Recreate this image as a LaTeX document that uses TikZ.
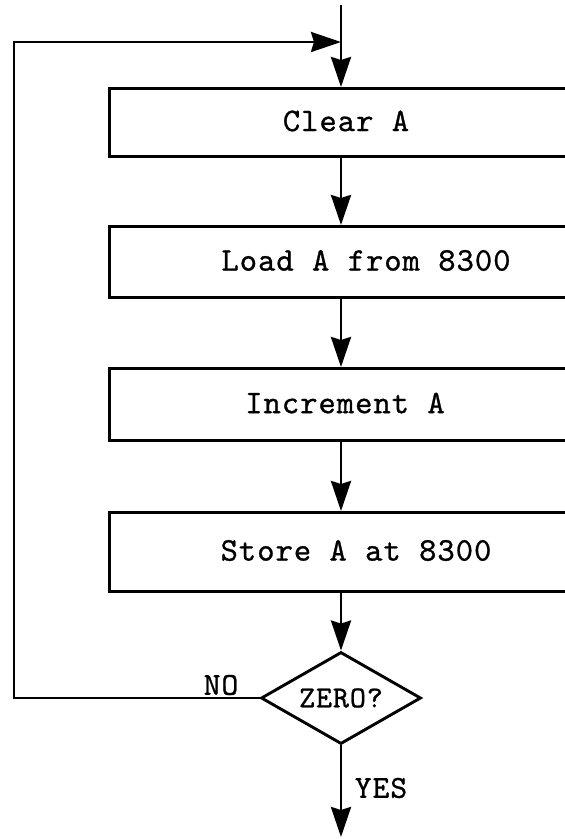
\documentclass[tikz,border=0pt]{standalone}
\usepackage{fontspec}
\newfontfamily\courtt[LetterSpace=3,FakeBold=0.8]{lmmono10-regular.otf}
\usetikzlibrary{arrows.meta,shapes.geometric}
\tikzset{
  stepbox/.style={draw, line width=2.9pt, minimum width=490pt, inner sep=0pt, anchor=north west},
  lbl/.style={font=\fontsize{33}{38}\selectfont\courtt, inner sep=0pt},
  smalllbl/.style={font=\fontsize{32}{36}\selectfont\courtt, inner sep=0pt},
  decision/.style={draw, diamond, line width=2.9pt, aspect=1.74, minimum width=160pt, minimum height=92pt, inner sep=0pt, font=\fontsize{30.5}{34}\selectfont\courtt},
  flow/.style={line width=2.9pt, -{Stealth[length=30pt, width=20pt, inset=3pt]}}
}
\begin{document}
\begin{tikzpicture}[x=1pt, y=-1pt]
\useasboundingbox (0,0) rectangle (565,839);
\clip (0,0) rectangle (565,839);
\fill[white] (0,0) rectangle (565,839);

\coordinate (top) at (341,5);
\coordinate (join) at (341,42);
\coordinate (loopx) at (14,42);
\coordinate (endpt) at (341,837);

\node[stepbox, minimum height=68pt] (clear) at (108,87) {};
\node[stepbox, minimum height=71pt] (load) at (108,225) {};
\node[stepbox, minimum height=72pt] (incr) at (108,367) {};
\node[stepbox, minimum height=79pt] (store) at (108,511) {};

\node[lbl] (tclear) at (346,121) {Clear A};
\node[lbl] (tload) at (366,260.5) {Load A from 8300};
\node[lbl] (tincr) at (345,403) {Increment A};
\node[lbl] (tstore) at (356,550.5) {Store A at 8300};

\node[decision] (dia) at (341,698) {ZERO?};
\node[smalllbl] (no) at (221,685) {NO};
\node[smalllbl] (yes) at (381,788) {YES};

\draw[flow] (top) -- (clear.north -| top);
\draw[flow] (clear.south -| top) -- (load.north -| top);
\draw[flow] (load.south -| top) -- (incr.north -| top);
\draw[flow] (incr.south -| top) -- (store.north -| top);
\draw[flow] (store.south -| top) -- (dia.north);
\draw[flow] (dia.south) -- (endpt);
\draw[flow] (dia.west) -| (loopx) -- (join);
\end{tikzpicture}
\end{document}
